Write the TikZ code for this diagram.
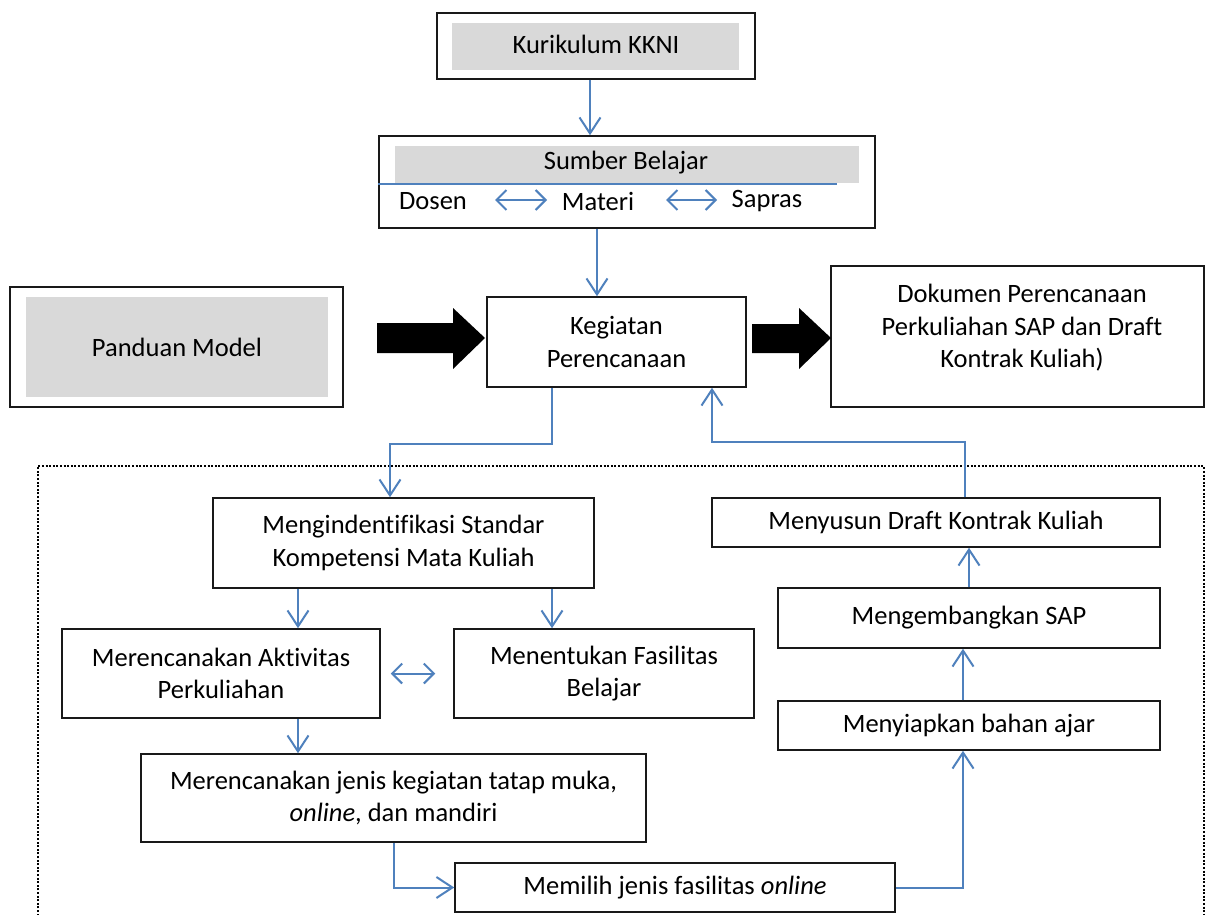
\documentclass[tikz,border=0pt]{standalone}
\usepackage{fontspec}
\setmainfont{Carlito}[Ligatures=NoCommon]
\usetikzlibrary{arrows.meta}
\definecolor{lnblue}{HTML}{4F81BD}
\definecolor{boxgray}{HTML}{D9D9D9}
\begin{document}
\begin{tikzpicture}[x=1pt,y=-1pt,
  every node/.style={font=\fontsize{26.5}{32.5}\selectfont},
  box/.style={draw=black!90, line width=1.5pt, inner sep=0pt, align=center},
  lbl/.style={inner sep=0pt, align=center},
  conn/.style={draw=lnblue, line width=2pt, -{Straight Barb[length=16pt,width=21pt,line width=2pt]}},
  dconn/.style={draw=lnblue, line width=2pt, {Straight Barb[length=10pt,width=20pt,line width=2pt]}-{Straight Barb[length=10pt,width=20pt,line width=2pt]}},
  plain/.style={draw=lnblue, line width=2pt},
  gfill/.style={fill=boxgray, draw=none},
  blockarrow/.style={fill=black, draw=none}
]
\useasboundingbox (0,0) rectangle (1205,915);
\fill[white] (0,0) rectangle (1205,915);

% dotted frame
\draw[line width=2pt, dash pattern=on 2pt off 1.6pt] (38,930) -- (38,466) -- (1203.5,466) -- (1203.5,930);

% Kurikulum KKNI
\node[box, minimum width=318, minimum height=66] (kkni) at (596,46) {};
\fill[gfill] (452,23) rectangle (739,70);
\node[lbl] (kkniT) at (596,44) {Kurikulum KKNI};

% Sumber Belajar
\node[box, minimum width=496, minimum height=92] (sumber) at (627,182) {};
\fill[gfill] (395,146) rectangle (859,183);
\node[lbl] (sumberT) at (626,163) {Sumber Belajar};
\draw[plain] (sumber.west |- 0,184) -- (837,184);
\node[lbl] (dosen) at (433,201) {Dosen};
\node[lbl] (materi) at (598,201) {Materi};
\node[lbl] (sapras) at (767,201) {Sapras};
\draw[dconn] (495,200) -- (547,200);
\draw[dconn] (666,200) -- (717,200);

% Panduan Model
\node[box, minimum width=333, minimum height=120] (panduan) at (176.5,347) {};
\fill[gfill] (26,297) rectangle (328,397);
\node[lbl] (panduanT) at (177,347) {Panduan Model};

% Kegiatan Perencanaan
\node[box, minimum width=259, minimum height=90] (kegiatan) at (616.5,342) {Kegiatan\\Perencanaan};

% Dokumen
\node[box, minimum width=373, minimum height=141] (dokumen) at (1017.5,336.5) {};
\node[lbl] (dokumenT) at (1022,328) {Dokumen Perencanaan\\Perkuliahan SAP dan Draft\\Kontrak Kuliah)};

% block arrows
\fill[blockarrow] (377,323) -- (453,323) -- (453,308) -- (485,338) -- (453,369) -- (453,353) -- (377,353) -- cycle;
\fill[blockarrow] (752,324) -- (799,324) -- (799,308) -- (831,338) -- (799,369) -- (799,353) -- (752,353) -- cycle;

% lower boxes
\node[box, minimum width=381, minimum height=90] (ident) at (403.5,543) {Mengindentifikasi Standar\\Kompetensi Mata Kuliah};
\node[box, minimum width=318, minimum height=89] (aktiv) at (221,673.5) {Merencanakan Aktivitas\\Perkuliahan};
\node[box, minimum width=300, minimum height=89] (fasil) at (604,673.5) {Menentukan Fasilitas\\Belajar};
\node[box, minimum width=505, minimum height=88] (jenis) at (393.5,798) {Merencanakan jenis kegiatan tatap muka,\\\textit{online}, dan mandiri};
\node[box, minimum width=440, minimum height=49] (memilih) at (675,887.5) {Memilih jenis fasilitas \textit{online}};
\node[box, minimum width=382, minimum height=49] (siapkan) at (969,725.5) {Menyiapkan bahan ajar};
\node[box, minimum width=382, minimum height=60] (kembang) at (969,618) {Mengembangkan SAP};
\node[box, minimum width=448, minimum height=49] (susun) at (936,522.5) {Menyusun Draft Kontrak Kuliah};

% connectors
\draw[conn] ([xshift=-6pt]kkni.south) -- ([xshift=-6pt]kkni.south |- sumber.north);
\draw[conn] ([xshift=-30pt]sumber.south) -- ([xshift=-30pt]sumber.south |- kegiatan.north);
\draw[conn] ([xshift=-64.5pt]kegiatan.south) -- ++(0,56) -| ([xshift=-13.5pt]ident.north);
\draw[conn] ([xshift=29pt]susun.north) -- ++(0,-55) -| ([xshift=95.5pt]kegiatan.south);
\draw[conn] ([xshift=-105.5pt]ident.south) -- ([xshift=-105.5pt]ident.south |- aktiv.north);
\draw[conn] ([xshift=148.5pt]ident.south) -- ([xshift=148.5pt]ident.south |- fasil.north);
\draw[dconn] ([xshift=10pt]aktiv.east) -- ([xshift=-18pt]fasil.west);
\draw[conn] ([xshift=77pt]aktiv.south) -- ([xshift=77pt]aktiv.south |- jenis.north);
\draw[conn] (jenis.south) |- (memilih.west);
\draw[conn] (memilih.east) -| ([xshift=-6pt]siapkan.south);
\draw[conn] ([xshift=-6pt]siapkan.north) -- ([xshift=-6pt]siapkan.north |- kembang.south);
\draw[conn] (kembang.north) -- (kembang.north |- susun.south);
\end{tikzpicture}
\end{document}
